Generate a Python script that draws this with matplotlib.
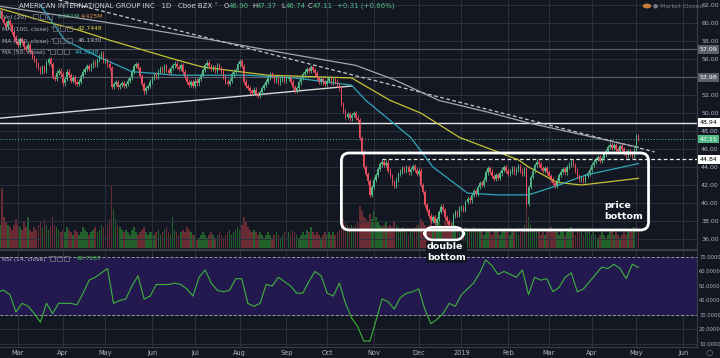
import numpy as np
import pandas as pd
import matplotlib
matplotlib.use("Agg")
import matplotlib.pyplot as plt
from matplotlib.patches import FancyBboxPatch, Rectangle, Circle
from matplotlib.transforms import blended_transform_factory, IdentityTransform

# ---- daily closes, one list per month ----
feb18 = [60.8, 61.3, 60.5, 60.0, 59.6, 60.2, 59.8, 59.0, 58.4, 57.9]
mar18 = [57.6, 58.2, 57.9, 57.3, 57.0, 57.6, 56.8, 56.2, 55.9, 55.4, 55.0, 54.6, 55.1, 54.7, 55.6, 56.0,
         55.4, 54.0, 53.8, 54.5, 54.7, 54.3]
apr18 = [53.3, 53.8, 54.6, 54.2, 53.6, 54.0, 53.4, 53.2, 53.5, 54.1, 54.6, 54.9, 55.2, 54.9, 55.3, 55.6,
         55.4, 55.9, 56.3, 56.6, 55.8]
may18 = [55.9, 55.4, 55.0, 52.9, 53.2, 53.4, 52.9, 53.1, 53.3, 53.0, 53.2, 53.6, 53.9, 54.6, 55.2, 55.4,
         55.0, 54.1, 53.2, 52.4, 52.8, 53.0, 53.5]
jun18 = [53.9, 54.3, 54.0, 54.6, 55.0, 54.7, 55.2, 54.8, 54.5, 55.0, 55.3, 55.5, 55.1, 54.9, 55.3, 54.6,
         54.0, 53.5, 53.1, 53.4, 53.0]
jul18 = [53.6, 53.3, 53.8, 54.2, 54.8, 55.3, 55.6, 55.2, 54.9, 55.1, 54.7, 55.3, 55.0, 54.6, 54.0, 53.5,
         53.2, 53.6, 54.3, 54.6, 54.8, 55.4]
aug18 = [55.8, 55.2, 53.5, 53.0, 52.8, 52.4, 52.2, 52.6, 52.1, 51.9, 52.3, 52.8, 53.1, 53.5, 53.9, 54.3,
         54.1, 53.6, 53.9, 53.4, 53.7, 54.0, 53.6]
sep18 = [53.8, 54.0, 53.5, 52.9, 52.5, 52.8, 53.4, 53.9, 54.3, 54.6, 54.9, 54.7, 55.1, 54.8, 54.4, 53.9,
         53.5, 53.8, 53.4, 53.2]
oct18 = [53.6, 53.9, 53.4, 53.8, 53.5, 53.1, 52.7, 51.0, 50.2, 49.6, 49.9, 49.4, 49.8, 50.0, 49.5, 49.2,
         47.2, 45.6, 44.0, 43.2, 42.4, 40.9, 41.8]
nov18 = [42.6, 43.1, 43.8, 44.3, 44.6, 44.2, 44.5, 43.6, 43.0, 42.3, 41.9, 42.6, 43.2, 43.5, 43.9, 43.6,
         44.0, 43.4, 43.8, 44.1, 43.7, 43.2]
dec18 = [43.6, 42.0, 41.2, 39.8, 39.2, 38.6, 38.0, 38.4, 37.8, 38.2, 39.0, 39.6, 39.2, 38.4, 38.0, 37.6,
         37.4, 38.6, 39.0, 38.7, 39.4]
jan19 = [39.5, 39.2, 40.1, 40.5, 40.3, 40.9, 41.3, 41.0, 41.8, 42.2, 42.0, 42.6, 43.4, 43.9, 43.5, 43.0,
         42.7, 43.1, 42.8, 43.3, 43.7, 44.0, 43.6]
feb19 = [43.2, 43.5, 43.9, 43.4, 43.7, 44.1, 43.6, 43.2, 43.8, 39.9, 41.8, 42.9, 43.6, 44.2, 44.6, 44.3,
         43.9, 43.6, 43.9, 43.4]
mar19 = [43.0, 42.6, 42.2, 41.9, 42.5, 43.1, 43.5, 43.8, 43.4, 44.0, 44.3, 44.6, 44.2, 43.6, 43.0, 42.6,
         42.8, 42.5, 43.0, 43.3, 43.7]
apr19 = [44.2, 44.6, 44.9, 45.1, 44.7, 45.0, 45.4, 45.8, 46.2, 46.5, 46.1, 46.4, 46.0, 45.8, 46.3, 46.0,
         45.6, 45.3, 45.8, 45.5, 45.2, 45.9]
may19 = [47.4, 47.11]
first_open = 61.0

# ---- daily volume (millions) ----
vol_feb18 = [8, 9, 23, 12, 10, 9, 8, 7, 9, 11]
vol_mar18 = [9, 8, 7, 10, 8, 12, 7, 6, 8, 7, 9, 10, 8, 11, 9, 7, 8, 12, 9, 8, 7, 6]
vol_apr18 = [7, 6, 8, 7, 6, 5, 7, 6, 5, 6, 8, 7, 6, 5, 6, 7, 8, 6, 7, 9, 8]
vol_may18 = [8, 9, 11, 24, 15, 11, 9, 8, 7, 6, 7, 6, 5, 7, 8, 6, 5, 6, 7, 8, 6, 5, 6]
vol_jun18 = [6, 5, 6, 7, 5, 6, 7, 8, 6, 5, 12, 7, 6, 5, 6, 7, 6, 8, 7, 6, 5]
vol_jul18 = [5, 3, 4, 5, 6, 5, 4, 5, 6, 5, 4, 5, 6, 5, 4, 5, 6, 7, 5, 6, 7, 8]
vol_aug18 = [7, 9, 12, 10, 8, 7, 6, 7, 6, 5, 6, 5, 4, 5, 6, 5, 4, 5, 6, 5, 4, 5, 6]
vol_sep18 = [5, 6, 5, 7, 6, 5, 4, 5, 6, 5, 7, 6, 8, 6, 5, 6, 5, 4, 5, 6]
vol_oct18 = [5, 6, 5, 6, 5, 6, 7, 12, 11, 10, 9, 8, 9, 8, 9, 10, 16, 14, 12, 11, 10, 13, 11]
vol_nov18 = [14, 12, 10, 9, 8, 9, 10, 8, 9, 8, 10, 9, 8, 7, 8, 7, 6, 5, 6, 7, 8, 9]
vol_dec18 = [9, 11, 10, 9, 8, 9, 10, 8, 9, 10, 11, 9, 8, 10, 12, 9, 8, 10, 9, 7, 6]
vol_jan19 = [8, 7, 8, 7, 6, 7, 8, 7, 6, 7, 6, 5, 6, 7, 6, 5, 6, 7, 6, 5, 6, 7, 6]
vol_feb19 = [6, 5, 6, 7, 6, 5, 6, 7, 9, 18, 12, 9, 7, 6, 7, 6, 5, 6, 5, 6]
vol_mar19 = [7, 8, 6, 7, 6, 5, 7, 6, 5, 6, 7, 8, 6, 5, 6, 7, 6, 5, 6, 7, 6]
vol_apr19 = [5, 6, 5, 4, 5, 6, 5, 4, 5, 6, 7, 5, 6, 5, 4, 5, 6, 5, 6, 7, 6, 8]
vol_may19 = [10, 7]

rsi_step = 3
rsi_vals = [46, 47, 44, 32, 38, 36, 31, 25, 38, 31, 38, 38, 38, 37, 45, 54, 56, 59, 62, 38,
            40, 41, 50, 57, 41, 43, 51, 51, 51, 52, 51, 48, 43, 56, 61, 52, 47, 46, 47, 55,
            55, 38, 36, 38, 51, 50, 56, 53, 50, 45, 45, 53, 60, 57, 45, 43, 52, 38, 28, 22,
            12, 12, 26, 41, 39, 34, 42, 45, 46, 48, 34, 24, 27, 31, 38, 36, 44, 48, 52, 59,
            68, 64, 58, 60, 58, 56, 61, 44, 56, 54, 55, 46, 49, 56, 59, 46, 48, 53, 58, 63,
            62, 65, 62, 55, 65, 62.73]

# ---- moving averages ----
ma200_dates = ["2018-02-15", "2018-04-26", "2018-07-13", "2018-08-30", "2018-10-19", "2018-11-15",
               "2018-12-17", "2019-01-18", "2019-02-15", "2019-03-29", "2019-05-02"]
ma200_vals = [61.9, 60.2, 58.1, 56.7, 55.3, 53.7, 51.4, 50.1, 48.9, 47.4, 46.19]
ma100_dates = ["2018-02-15", "2018-03-16", "2018-04-12", "2018-05-03", "2018-06-19", "2018-07-06",
               "2018-08-21", "2018-10-17", "2018-11-13", "2018-12-04", "2018-12-31", "2019-02-08",
               "2019-02-15", "2019-03-07", "2019-03-25", "2019-05-02"]
ma100_vals = [61.7, 60.3, 59.2, 58.1, 55.9, 55.1, 54.2, 53.9, 51.4, 50.0, 47.3, 44.8, 44.0, 42.3, 42.0, 42.74]
ma50_dates = ["2018-03-16", "2018-04-03", "2018-04-26", "2018-05-18", "2018-06-19", "2018-08-07",
              "2018-09-07", "2018-10-17", "2018-10-26", "2018-11-27", "2018-12-12", "2019-01-04",
              "2019-01-25", "2019-02-15", "2019-03-08", "2019-03-27", "2019-05-02"]
ma50_vals = [62.0, 58.1, 56.2, 54.6, 54.2, 54.2, 53.9, 53.1, 51.4, 47.3, 44.0, 41.1, 40.9, 40.9, 42.0,
             43.1, 44.38]

# ---- drawings ----
support_dates, support_vals = ["2018-02-15", "2018-10-17"], [49.4, 53.0]
falling_dates, falling_vals = ["2018-03-29", "2019-05-14"], [62.56, 45.67]
level_lines = [57.09, 53.98, 48.94]
last_close = 47.11
neckline, neckline_from = 44.84, "2018-11-07"
price_box = ["2018-10-10", "2019-05-09", 37.0, 45.56]
dbl_box = ["2018-12-06", "2019-01-02", 35.9, 37.3]

month_dates = ["2018-03-01", "2018-04-02", "2018-05-01", "2018-06-01", "2018-07-02", "2018-08-01",
               "2018-09-03", "2018-10-01", "2018-11-01", "2018-12-03", "2019-01-01", "2019-02-01",
               "2019-03-01", "2019-04-01", "2019-05-01", "2019-06-03"]
month_labels = ["Mar", "Apr", "May", "Jun", "Jul", "Aug", "Sep", "Oct", "Nov", "Dec", "2019", "Feb",
                "Mar", "Apr", "May", "Jun"]

closes = np.array(feb18 + mar18 + apr18 + may18 + jun18 + jul18 + aug18 + sep18 + oct18 + nov18 +
                  dec18 + jan19 + feb19 + mar19 + apr19 + may19)
volumes = np.array(vol_feb18 + vol_mar18 + vol_apr18 + vol_may18 + vol_jun18 + vol_jul18 + vol_aug18 +
                   vol_sep18 + vol_oct18 + vol_nov18 + vol_dec18 + vol_jan19 + vol_feb19 + vol_mar19 +
                   vol_apr19 + vol_may19)

dates = pd.bdate_range("2018-02-15", "2019-07-31")


def pos(d):
    return dates.searchsorted(pd.Timestamp(d))


n = len(closes)
bars = np.arange(n)
opens = np.r_[first_open, closes[:-1]]
highs = np.maximum(opens, closes) + 0.25
lows = np.minimum(opens, closes) - 0.25
up = closes >= opens
rsi_bars = np.arange(len(rsi_vals)) * rsi_step

# ---- style ----
BG = "#131722"
GRID = "#2c303c"
TXT = "#b2b5be"
UP, DN = "#53b987", "#eb4d5c"
VUP, VDN = "#22602c", "#6a2c34"

W, H = 720, 358
fig = plt.figure(figsize=(W / 100, H / 100), dpi=100, facecolor=BG)
px_bar = 2.034
x_left = pos("2018-03-01") - 18 / px_bar
x_right = pos("2018-03-01") + (697 - 18) / px_bar

axv = fig.add_axes([0, 110 / H, 697 / W, 248 / H], facecolor=BG, label="vol")
ax = fig.add_axes([0, 110 / H, 697 / W, 248 / H], facecolor="none", label="price")
axr = fig.add_axes([0, 11 / H, 697 / W, 97 / H], facecolor=BG, label="rsi")

month_pos = [pos(d) for d in month_dates]

# volume
axv.bar(bars, volumes, width=0.8, color=np.where(up, VUP, VDN), linewidth=0)
axv.set_ylim(0, 95)
axv.set_xlim(x_left, x_right)
axv.axis("off")

# price pane
ax.set_xlim(x_left, x_right)
ax.set_ylim(35.0, 62.56)
ax.set_yticks(np.arange(36, 63, 2))
ax.set_yticklabels([f"{v:.2f}" for v in np.arange(36, 63, 2)])
ax.set_xticks(month_pos)
ax.tick_params(axis="x", labelbottom=False, length=0)
ax.yaxis.tick_right()
ax.tick_params(axis="y", length=0, pad=3, labelsize=4.5, labelcolor=TXT)
ax.grid(True, color=GRID, lw=0.7)
ax.set_axisbelow(True)
for s in ["top", "left", "bottom"]:
    ax.spines[s].set_visible(False)
ax.spines["right"].set_color("#3a3e4a")

for lv in level_lines[:2]:
    ax.axhline(lv, color="#5d606b", lw=0.8)
ax.axhline(level_lines[2], color="#e8e8e8", lw=1.0)
ax.axhline(last_close, color=UP, lw=0.7, ls=(0, (1, 2)))
ax.plot([pos(neckline_from), x_right], [neckline, neckline], color="#e8e8e8", lw=0.9, ls=(0, (3, 2)))
ax.plot([pos(d) for d in support_dates], support_vals, color="#d8d8d8", lw=1.0)
ax.plot([pos(d) for d in falling_dates], falling_vals, color="#c8c8c8", lw=0.9, ls=(0, (3, 2)))

ax.plot([pos(d) for d in ma200_dates], ma200_vals, color="#a3a6ae", lw=0.9)
ax.plot([pos(d) for d in ma100_dates], ma100_vals, color="#c6c435", lw=0.9)
ax.plot([pos(d) for d in ma50_dates], ma50_vals, color="#2fa7b8", lw=0.9)

col = np.where(up, UP, DN)
ax.vlines(bars, lows, highs, colors=col, lw=0.6)
ax.bar(bars, np.maximum(np.abs(closes - opens), 0.06), bottom=np.minimum(opens, closes),
       width=0.7, color=col, linewidth=0)

# right-side price tags
tr = blended_transform_factory(ax.transAxes, ax.transData)
tags = [(57.09, "#5d606b", "white"), (53.98, "#5d606b", "white"), (48.94, "white", "black"),
        (last_close, UP, "white"), (neckline, "white", "black")]
for val, bg, fg in tags:
    ax.text(1.004, val, f"{val:.2f}", transform=tr, fontsize=4.5, color=fg, va="center", ha="left",
            bbox=dict(boxstyle="square,pad=0.3", fc=bg, ec="none"), clip_on=False, zorder=6)

# rsi pane
axr.set_xlim(x_left, x_right)
axr.set_ylim(7.9, 74.8)
axr.axhspan(30, 70, color="#24194f", lw=0)
axr.axhline(70, color="#9598a1", lw=0.7, ls=(0, (3, 2)))
axr.axhline(30, color="#9598a1", lw=0.7, ls=(0, (3, 2)))
axr.plot(rsi_bars, rsi_vals, color="#3cb43c", lw=0.8)
axr.set_yticks(np.arange(10, 71, 10))
axr.set_yticklabels([f"{v:.4f}" for v in np.arange(10, 71, 10)])
axr.yaxis.tick_right()
axr.tick_params(axis="y", length=0, pad=1.5, labelsize=3.7, labelcolor=TXT)
axr.set_xticks(month_pos)
axr.set_xticklabels(month_labels)
axr.tick_params(axis="x", length=0, pad=2.5, labelsize=4.8, labelcolor=TXT)
axr.grid(True, color=GRID, lw=0.7)
axr.set_axisbelow(True)
axr.spines["left"].set_visible(False)
for s in ["top", "bottom", "right"]:
    axr.spines[s].set_color("#3a3e4a")
axr.spines["top"].set_linewidth(1.5)


# ---- annotations ----
def fx(x):
    return x / W


def fy(y):
    return 1 - y / H


def round_box(spec, lw):
    x0, y0 = ax.transData.transform((pos(spec[0]), spec[2]))
    x1, y1 = ax.transData.transform((pos(spec[1]), spec[3]))
    fig.add_artist(FancyBboxPatch((x0, y0), x1 - x0, y1 - y0, boxstyle="round,pad=0,rounding_size=8",
                                  transform=IdentityTransform(), fill=False, ec="white", lw=lw, zorder=5))


round_box(price_box, 2.0)
round_box(dbl_box, 1.8)
fig.text(fx(427), fy(242), "double\nbottom", fontsize=6.8, fontweight="bold", color="white",
         va="top", ha="left", linespacing=1.3,
         bbox=dict(boxstyle="square,pad=0.1", fc=BG, ec="none"))
fig.text(fx(604), fy(201), "price\nbottom", fontsize=6.8, fontweight="bold", color="white",
         va="top", ha="left", linespacing=1.3)

# legend header
fig.text(fx(19), fy(6), "AMERICAN INTERNATIONAL GROUP INC   1D   Cboe BZX \u02c5", fontsize=5,
         color="#d1d4dc", va="center")
ohlc = [("O", "46.90", 224), ("H", "47.37", 252), ("L", "46.74", 281), ("C", "47.11", 308)]
for k, v, x in ohlc:
    fig.text(fx(x), fy(6), k, fontsize=5, color="#d1d4dc", va="center")
    fig.text(fx(x + 4.5), fy(6), v, fontsize=5, color=UP, va="center")
fig.text(fx(337), fy(6), "+0.31 (+0.66%)", fontsize=5, color=UP, va="center")


def icons(x, y):
    for k in range(3):
        fig.add_artist(Rectangle((fx(x + 7 * k), fy(y) - 2.4 / H), 5 / W, 5 / H, transform=fig.transFigure,
                                 fill=False, ec="#6a6d78", lw=0.6))


legend_rows = [("Vol (20)", 3, 17, 33, [("6.361M", 58, UP), ("4.425M", 81, "#e0903a")]),
               ("MA (100, close) \u02c5", 2, 29, 53, [("42.7448", 78, "#d6d43c")]),
               ("MA (200, close) \u02c5", 2, 41, 53, [("46.1930", 78, TXT)]),
               ("MA (50, close) \u02c5", 2, 52, 50, [("44.3848", 75, "#2fb4c6")]),
               ("RSI (14, close) \u02c5", 2, 259, 50, [("62.7287", 77, "#3cc43c")])]
for name, x, y, xi, vals in legend_rows:
    fig.text(fx(x), fy(y), name, fontsize=4.3, color=TXT, va="center")
    icons(xi, y)
    for s, xv, c in vals:
        fig.text(fx(xv), fy(y), s, fontsize=4.3, color=c, va="center")

fig.add_artist(Circle((fx(647), fy(6)), 3.5 / W, transform=fig.transFigure, color="#c87a3c"))
fig.text(fx(653), fy(6), "\u25cf Market Closed", fontsize=4.3, color="#787b86", va="center")
fig.text(fx(709), fy(352), "\u25cb", fontsize=6, color="#787b86", va="center", ha="center")

fig.savefig("out.png", dpi=100, facecolor=BG)
